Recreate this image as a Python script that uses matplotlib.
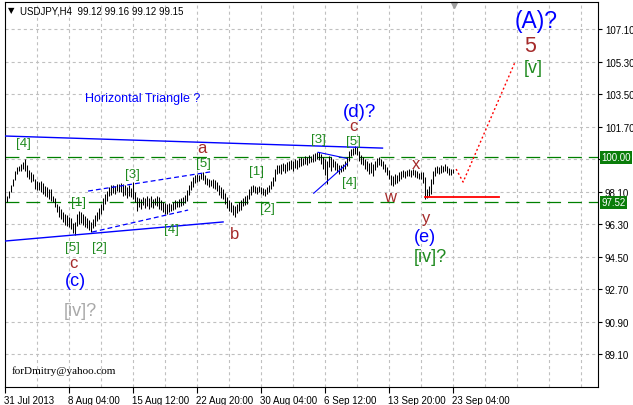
import matplotlib
matplotlib.use("Agg")
import matplotlib.pyplot as plt
import matplotlib.transforms as mtransforms
import numpy as np

plt.rcParams['font.family'] = ['Liberation Sans', 'DejaVu Sans']
plt.rcParams['lines.scale_dashes'] = False

# ---------------- data ----------------
symbol_title = "USDJPY,H4  99.12 99.16 99.12 99.15"

highs = [
    97.84, 98.12, 98.45, 98.78, 99.23, 99.45, 99.50, 99.61, 99.72, 99.89,
    99.56, 99.28, 99.17, 99.06, 98.78, 98.67, 98.62, 98.67, 98.56, 98.40,
    98.34, 98.23, 98.23, 97.84, 97.73, 97.40, 97.29, 97.13, 96.96, 96.85,
    96.79, 96.68, 96.63, 96.35, 96.41, 96.85, 97.02, 96.96, 96.85, 96.74,
    96.63, 96.52, 96.41, 96.57, 96.79, 96.96, 97.18, 97.40, 97.73, 97.96,
    98.12, 98.34, 98.45, 98.45, 98.40, 98.51, 98.51, 98.56, 98.51, 98.45,
    98.34, 98.45, 98.29, 98.62, 98.07, 97.79, 97.73, 97.68, 97.79, 97.73,
    97.84, 97.73, 97.84, 97.68, 97.73, 97.84, 97.79, 97.62, 97.51, 97.46,
    97.40, 97.46, 97.40, 97.51, 97.62, 97.57, 97.68, 97.73, 97.79, 97.90,
    98.18, 98.45, 98.67, 98.90, 99.01, 99.06, 99.01, 99.12, 99.17, 99.01,
    98.84, 98.78, 98.73, 98.78, 98.73, 98.62, 98.45, 98.34, 98.23, 98.01,
    97.79, 97.62, 97.51, 97.35, 97.29, 97.40, 97.51, 97.62, 97.73, 97.84,
    97.90, 98.23, 98.40, 98.45, 98.40, 98.34, 98.40, 98.34, 98.29, 98.23,
    98.34, 98.45, 98.67, 98.90, 99.34, 99.56, 99.56, 99.61, 99.67, 99.61,
    99.72, 99.78, 99.83, 99.78, 99.89, 99.83, 99.94, 100.00, 99.94, 100.06,
    100.00, 100.11, 100.06, 100.17, 100.22, 100.28, 100.28, 100.17, 100.00, 99.89,
    99.78, 100.06, 100.00, 99.89, 99.78, 99.67, 99.56, 99.56, 99.61, 99.78,
    100.00, 100.33, 100.44, 100.50, 100.61, 100.55, 100.33, 100.11, 100.00, 99.89,
    99.78, 99.67, 99.72, 99.61, 99.78, 99.94, 100.00, 99.89, 99.78, 99.61,
    99.45, 99.28, 99.01, 98.95, 99.06, 99.01, 99.17, 99.23, 99.28, 99.23,
    99.28, 99.34, 99.28, 99.34, 99.28, 99.23, 99.12, 99.17, 99.17, 98.90,
    98.23, 98.40, 98.78, 99.23, 99.45, 99.50, 99.45, 99.56, 99.50, 99.61,
    99.50, 99.39, 99.34, 99.34,
]
lows = [
    97.51, 97.73, 98.07, 98.40, 98.73, 99.06, 99.23, 99.23, 99.34, 99.23,
    98.90, 98.78, 98.62, 98.67, 98.23, 98.18, 98.18, 98.07, 97.96, 97.84,
    97.79, 97.68, 97.57, 97.51, 97.24, 96.96, 96.68, 96.57, 96.41, 96.24,
    96.19, 96.13, 96.02, 95.80, 95.69, 96.19, 96.30, 96.35, 96.24, 96.13,
    96.08, 95.97, 95.86, 96.08, 96.19, 96.46, 96.57, 96.85, 97.07, 97.40,
    97.57, 97.84, 97.90, 98.01, 97.96, 98.12, 98.07, 98.07, 97.84, 97.90,
    97.73, 97.84, 97.79, 97.68, 97.51, 97.02, 97.24, 97.13, 97.35, 97.18,
    97.29, 97.13, 97.24, 97.18, 97.35, 97.29, 97.13, 97.07, 96.96, 96.85,
    96.85, 96.96, 97.02, 97.07, 97.13, 97.24, 97.24, 97.29, 97.35, 97.46,
    97.57, 97.90, 98.18, 98.34, 98.56, 98.62, 98.67, 98.78, 98.73, 98.51,
    98.45, 98.34, 98.40, 98.29, 98.23, 98.12, 97.90, 97.73, 97.68, 97.40,
    97.18, 97.02, 96.96, 96.79, 96.68, 96.90, 97.02, 97.07, 97.29, 97.35,
    97.40, 97.68, 97.90, 98.07, 98.01, 97.96, 98.07, 97.96, 97.90, 97.84,
    97.96, 98.07, 98.23, 98.40, 98.67, 99.06, 99.12, 99.06, 99.23, 99.12,
    99.23, 99.28, 99.34, 99.23, 99.39, 99.34, 99.45, 99.50, 99.56, 99.61,
    99.56, 99.67, 99.72, 99.72, 99.78, 99.89, 99.83, 99.61, 99.34, 99.01,
    98.51, 99.45, 99.23, 99.45, 99.28, 99.17, 99.06, 99.17, 99.23, 99.34,
    99.50, 99.78, 100.06, 100.11, 100.17, 100.11, 99.78, 99.61, 99.56, 99.34,
    99.23, 99.06, 99.12, 98.95, 99.28, 99.45, 99.56, 99.50, 99.34, 99.17,
    99.01, 98.78, 98.45, 98.40, 98.51, 98.56, 98.67, 98.78, 98.90, 98.84,
    98.95, 98.95, 98.90, 99.01, 98.90, 98.84, 98.78, 98.78, 98.56, 97.68,
    97.73, 97.84, 97.96, 98.51, 98.95, 99.12, 99.06, 99.12, 99.17, 99.23,
    99.12, 99.01, 99.01, 99.12,
]

xtick_bars = [0, 32, 64, 96, 128, 160, 192, 224]
xtick_labels = ["31 Jul 2013", "8 Aug 04:00", "15 Aug 12:00", "22 Aug 20:00",
                "30 Aug 04:00", "6 Sep 12:00", "13 Sep 20:00", "23 Sep 04:00"]
ytick_values = [89.10, 90.90, 92.70, 94.50, 96.30, 98.10, 99.90,
                101.70, 103.50, 105.30, 107.10]

level_high = 100.00
level_low = 97.52

# trend lines (bar index, price)
tri_upper = [(0, 101.18), (189, 100.51)]
tri_lower = [(0, 95.36), (109.3, 96.42)]
chan_upper = [(41.8, 98.13), (102.8, 99.19)]
chan_lower = [(43.8, 95.86), (91.8, 97.08)]
d_upper = [(156.8, 100.28), (171.2, 99.94)]
d_lower = [(154.6, 98.01), (171.3, 99.65)]
forecast = [(225.8, 99.35), (229.3, 98.63), (255.3, 105.28)]
support_line = [(210.3, 97.80), (247.3, 97.80)]

green = '#1f8a1f'
dred = '#a52a2a'
blue = '#0000ff'
gray = '#a9a9a9'

# wave labels: (text, bar, price, color, size)
wave_labels = [
    ("[4]", 9.25, 100.79, green, 9.5),
    ("[1]", 37.25, 97.52, green, 9.5),
    ("[5]", 33.75, 95.03, green, 9.5),
    ("[2]", 47.25, 95.03, green, 9.5),
    ("c", 34.25, 94.15, dred, 12),
    ("(c)", 35.25, 93.15, blue, 13),
    ("[iv]?", 37.75, 91.49, gray, 13),
    ("[3]", 63.75, 99.08, green, 9.5),
    ("[4]", 83.25, 96.03, green, 9.5),
    ("[5]", 99.25, 99.68, green, 9.5),
    ("a", 98.75, 100.57, dred, 12),
    ("b", 115.25, 95.80, dred, 12),
    ("[1]", 125.75, 99.24, green, 9.5),
    ("[2]", 131.25, 97.18, green, 9.5),
    ("[3]", 156.75, 101.01, green, 9.5),
    ("[5]", 174.25, 100.90, green, 9.5),
    ("c", 174.25, 101.75, dred, 12),
    ("(d)?", 177.5, 102.56, blue, 13.5),
    ("[4]", 172.25, 98.63, green, 9.5),
    ("x", 205.75, 99.68, dred, 12),
    ("w", 192.75, 97.85, dred, 12),
    ("y", 210.75, 96.69, dred, 12),
    ("(e)", 210.25, 95.59, blue, 13),
    ("[iv]?", 213.0, 94.53, green, 13),
    ("(A)?", 266.0, 107.57, blue, 16.5),
    ("5", 262.75, 106.18, dred, 15.5),
    ("[v]", 264.4, 104.98, green, 13),
]

# ---------------- figure ----------------
W, H = 633, 406
fig = plt.figure(figsize=(W / 100, H / 100), dpi=100)
fig.patch.set_facecolor('white')
ax = fig.add_axes([4.5 / W, 18 / H, 593.5 / W, 385 / H])
ax.set_xlim(0, 296.75)
ax.set_ylim(87.28, 108.60)

# grid
for yv in ytick_values:
    ax.axhline(yv, color='#c0c0c0', lw=0.8, dashes=(2.2, 2.2), zorder=0)
for gx in range(16, 297, 16):
    ax.axvline(gx, color='#c0c0c0', lw=0.8, dashes=(2.2, 2.2), zorder=0)

# price level lines
ax.axhline(level_high, color='#008000', lw=0.9, dashes=(10, 5), zorder=1)
ax.axhline(level_low, color='#008000', lw=0.9, dashes=(10, 5), zorder=1)

# bars
idx = np.arange(1, len(highs) + 1)
ax.vlines(idx, lows, highs, color='black', lw=0.75, zorder=2)

def draw(pts, **kw):
    xs, ys = zip(*pts)
    ax.plot(xs, ys, **kw)

draw(tri_upper, color=blue, lw=1.0, zorder=3)
draw(tri_lower, color=blue, lw=1.0, zorder=3)
draw(chan_upper, color=blue, lw=0.9, dashes=(3.5, 2.2), zorder=3)
draw(chan_lower, color=blue, lw=0.9, dashes=(3.5, 2.2), zorder=3)
draw(d_upper, color=blue, lw=0.8, zorder=3)
draw(d_lower, color=blue, lw=0.8, zorder=3)
draw(forecast, color='red', lw=1.0, dashes=(1.4, 1.8), zorder=3)
draw(support_line, color='red', lw=1.3, zorder=3)

for txt, bx, py, col, fs in wave_labels:
    ax.text(bx, py, txt, color=col, fontsize=fs, ha='center', va='center', zorder=4)

ax.text(69.25, 103.28, "Horizontal Triangle ?", color=blue, fontsize=9,
        ha='center', va='center')
ax.text(3.75, 88.22, "forDmitry@yahoo.com", color='black', fontsize=8,
        family='Liberation Serif', ha='left', va='center')

# axes styling
for s in ax.spines.values():
    s.set_color('black')
    s.set_linewidth(0.8)
ax.yaxis.tick_right()
ax.set_yticks(ytick_values)
ax.set_yticklabels([f"{v:.2f}" for v in ytick_values])
ax.tick_params(axis='y', length=3, width=0.8, pad=2, labelsize=7, colors='black')
ax.set_xticks(xtick_bars)
ax.set_xticklabels(xtick_labels)
for lab in ax.get_xticklabels():
    lab.set_horizontalalignment('left')
ax.tick_params(axis='x', length=4, width=0.8, pad=1.5, labelsize=7, colors='black')

# level boxes on the right axis
btrans = mtransforms.blended_transform_factory(ax.transAxes, ax.transData)
for lv in (level_high, level_low):
    ax.annotate(f"{lv:.2f}", xy=(1.0, lv), xycoords=btrans, xytext=(2.5, 0),
                textcoords='offset points', color='white', fontsize=7,
                ha='left', va='center', annotation_clip=False,
                bbox=dict(boxstyle='square,pad=0.15', fc='#0a7d0a', ec='none'),
                zorder=10)

# shift marker
ax.plot([0.757], [0.992], marker='v', color='#a0a0a0', markersize=5,
        transform=ax.transAxes, clip_on=False)

# title
fig.text(8 / W, 1 - 11 / H, "▼", fontsize=6, family='DejaVu Sans',
         va='center', ha='left', color='black')
fig.text(20 / W, 1 - 11 / H, symbol_title, fontsize=7, va='center',
         ha='left', color='black')

fig.savefig("out.png", dpi=100, facecolor='white')
